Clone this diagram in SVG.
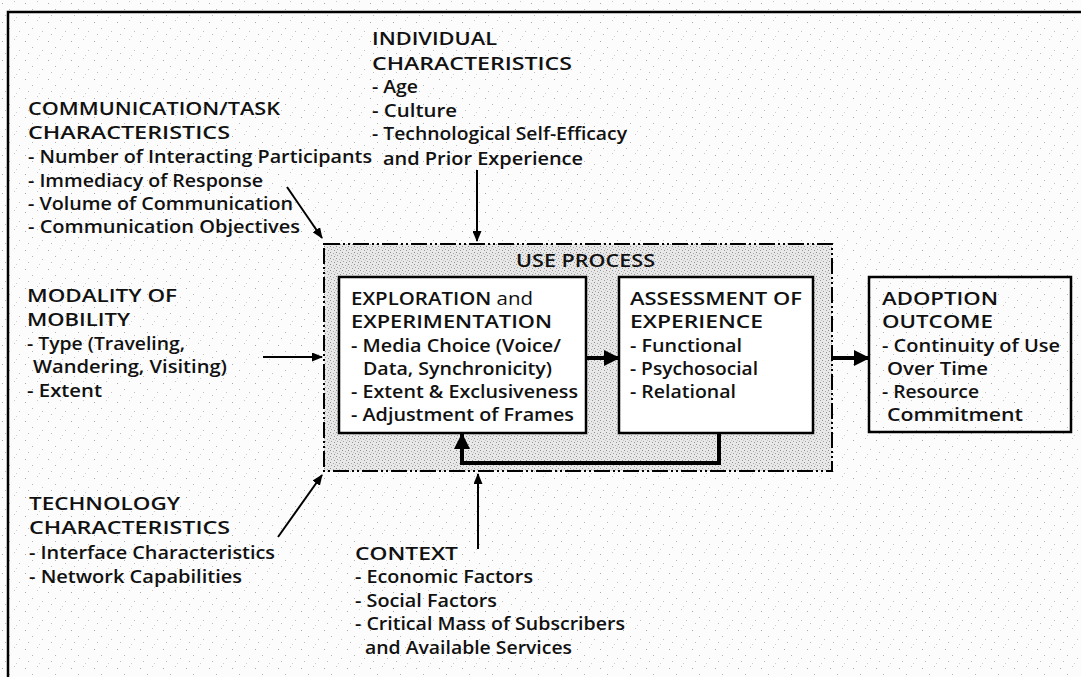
<svg xmlns="http://www.w3.org/2000/svg" width="1081" height="677" viewBox="0 0 1081 677">
  <defs>
    <style>
      text { font-family: "Open Sans", "Liberation Sans", sans-serif; font-size: 18px; font-weight: 600; fill: #111; }
      .frame { stroke: #000; stroke-width: 2.5; fill: none; }
      .box { fill: #fff; stroke: #000; stroke-width: 2.5; }
      .thin { stroke: #000; stroke-width: 2; fill: none; marker-end: url(#headThin); }
      .thick { stroke: #000; stroke-width: 4; fill: none; marker-end: url(#headThick); }
      .process { fill: url(#stipple); stroke: #000; stroke-width: 2; stroke-dasharray: 16 3 2 3 2 3; }
    </style>
    <!-- sparse, irregular grain for the page -->
    <pattern id="grain" width="23" height="19" patternUnits="userSpaceOnUse">
      <rect width="23" height="19" fill="#fcfcfc"/>
      <rect x="2" y="3" width="1" height="1" fill="#a8a8a8"/>
      <rect x="14" y="1" width="1" height="1" fill="#c8c8c8"/>
      <rect x="9" y="9" width="1" height="1" fill="#b4b4b4"/>
      <rect x="19" y="12" width="1" height="1" fill="#c0c0c0"/>
      <rect x="5" y="15" width="1" height="1" fill="#bcbcbc"/>
      <rect x="16" y="17" width="1" height="1" fill="#d0d0d0"/>
    </pattern>
    <!-- denser stipple inside the use-process frame -->
    <pattern id="stipple" width="6" height="6" patternUnits="userSpaceOnUse">
      <rect width="6" height="6" fill="#e8e8e8"/>
      <rect x="0" y="0" width="1" height="1" fill="#8c8c8c"/>
      <rect x="3" y="1" width="1" height="1" fill="#a8a8a8"/>
      <rect x="1" y="3" width="1" height="1" fill="#a0a0a0"/>
      <rect x="4" y="4" width="1" height="1" fill="#959595"/>
      <rect x="5" y="2" width="1" height="1" fill="#c4c4c4"/>
    </pattern>
    <marker id="headThin" markerUnits="userSpaceOnUse" markerWidth="11" markerHeight="9" refX="10" refY="4.5" orient="auto">
      <path d="M0,0 L11,4.5 L0,9 Z" fill="#000"/>
    </marker>
    <marker id="headThick" markerUnits="userSpaceOnUse" markerWidth="16" markerHeight="16" refX="15" refY="8" orient="auto">
      <path d="M0,0 L16,8 L0,16 Z" fill="#000"/>
    </marker>
  </defs>

  <rect width="1081" height="677" fill="url(#grain)"/>

  <!-- page frame -->
  <path class="frame" d="M8,677 L8,12 L1081,12"/>

  <!-- use process container -->
  <g id="use-process">
    <rect class="process" x="324" y="244" width="508" height="227"/>
    <text x="516" y="267" textLength="139" lengthAdjust="spacingAndGlyphs">USE PROCESS</text>
  </g>

  <g id="exploration">
    <rect class="box" x="339" y="277" width="247" height="156"/>
    <text x="351" y="305" textLength="182" lengthAdjust="spacingAndGlyphs">EXPLORATION <tspan style="font-weight:400">and</tspan></text>
    <text x="351" y="328" textLength="201" lengthAdjust="spacingAndGlyphs">EXPERIMENTATION</text>
    <text x="351" y="352" textLength="210" lengthAdjust="spacingAndGlyphs">- Media Choice (Voice/</text>
    <text x="363" y="375" textLength="189" lengthAdjust="spacingAndGlyphs">Data, Synchronicity)</text>
    <text x="351" y="398" textLength="227" lengthAdjust="spacingAndGlyphs">- Extent &amp; Exclusiveness</text>
    <text x="351" y="421" textLength="223" lengthAdjust="spacingAndGlyphs">- Adjustment of Frames</text>
  </g>

  <g id="assessment">
    <rect class="box" x="619" y="277" width="194" height="156"/>
    <text x="630" y="305" textLength="172" lengthAdjust="spacingAndGlyphs">ASSESSMENT OF</text>
    <text x="630" y="328" textLength="133" lengthAdjust="spacingAndGlyphs">EXPERIENCE</text>
    <text x="630" y="352" textLength="112" lengthAdjust="spacingAndGlyphs">- Functional</text>
    <text x="630" y="375" textLength="128" lengthAdjust="spacingAndGlyphs">- Psychosocial</text>
    <text x="630" y="398" textLength="106" lengthAdjust="spacingAndGlyphs">- Relational</text>
  </g>

  <g id="adoption">
    <rect class="box" x="869" y="277" width="202" height="155" style="fill:url(#grain)"/>
    <text x="882" y="305" textLength="116" lengthAdjust="spacingAndGlyphs">ADOPTION</text>
    <text x="882" y="328" textLength="111" lengthAdjust="spacingAndGlyphs">OUTCOME</text>
    <text x="882" y="352" textLength="178" lengthAdjust="spacingAndGlyphs">- Continuity of Use</text>
    <text x="887" y="375" textLength="101" lengthAdjust="spacingAndGlyphs">Over Time</text>
    <text x="882" y="398" textLength="97" lengthAdjust="spacingAndGlyphs">- Resource</text>
    <text x="887" y="421" textLength="136" lengthAdjust="spacingAndGlyphs">Commitment</text>
  </g>

  <g id="communication-task">
    <text x="28" y="115" textLength="252" lengthAdjust="spacingAndGlyphs">COMMUNICATION/TASK</text>
    <text x="28" y="139" textLength="202" lengthAdjust="spacingAndGlyphs">CHARACTERISTICS</text>
    <text x="28" y="163" textLength="344" lengthAdjust="spacingAndGlyphs">- Number of Interacting Participants</text>
    <text x="28" y="187" textLength="235" lengthAdjust="spacingAndGlyphs">- Immediacy of Response</text>
    <text x="28" y="210" textLength="265" lengthAdjust="spacingAndGlyphs">- Volume of Communication</text>
    <text x="28" y="233" textLength="272" lengthAdjust="spacingAndGlyphs">- Communication Objectives</text>
  </g>

  <g id="individual">
    <text x="372" y="45" textLength="125" lengthAdjust="spacingAndGlyphs">INDIVIDUAL</text>
    <text x="372" y="70" textLength="200" lengthAdjust="spacingAndGlyphs">CHARACTERISTICS</text>
    <text x="372" y="93" textLength="46" lengthAdjust="spacingAndGlyphs">- Age</text>
    <text x="372" y="117" textLength="85" lengthAdjust="spacingAndGlyphs">- Culture</text>
    <text x="372" y="140" textLength="255" lengthAdjust="spacingAndGlyphs">- Technological Self-Efficacy</text>
    <text x="383" y="165" textLength="200" lengthAdjust="spacingAndGlyphs">and Prior Experience</text>
  </g>

  <g id="modality">
    <text x="27" y="302" textLength="150" lengthAdjust="spacingAndGlyphs">MODALITY OF</text>
    <text x="27" y="326" textLength="103" lengthAdjust="spacingAndGlyphs">MOBILITY</text>
    <text x="27" y="350" textLength="158" lengthAdjust="spacingAndGlyphs">- Type (Traveling,</text>
    <text x="33" y="373" textLength="194" lengthAdjust="spacingAndGlyphs">Wandering, Visiting)</text>
    <text x="27" y="397" textLength="75" lengthAdjust="spacingAndGlyphs">- Extent</text>
  </g>

  <g id="technology">
    <text x="29" y="510" textLength="151" lengthAdjust="spacingAndGlyphs">TECHNOLOGY</text>
    <text x="29" y="534" textLength="201" lengthAdjust="spacingAndGlyphs">CHARACTERISTICS</text>
    <text x="29" y="559" textLength="246" lengthAdjust="spacingAndGlyphs">- Interface Characteristics</text>
    <text x="29" y="583" textLength="213" lengthAdjust="spacingAndGlyphs">- Network Capabilities</text>
  </g>

  <g id="context">
    <text x="355" y="560" textLength="103" lengthAdjust="spacingAndGlyphs">CONTEXT</text>
    <text x="355" y="583" textLength="178" lengthAdjust="spacingAndGlyphs">- Economic Factors</text>
    <text x="355" y="607" textLength="142" lengthAdjust="spacingAndGlyphs">- Social Factors</text>
    <text x="355" y="630" textLength="270" lengthAdjust="spacingAndGlyphs">- Critical Mass of Subscribers</text>
    <text x="365" y="654" textLength="207" lengthAdjust="spacingAndGlyphs">and Available Services</text>
  </g>

  <!-- connectors -->
  <g id="connectors">
    <line class="thin" x1="287" y1="187" x2="322" y2="238"/>
    <line class="thin" x1="477" y1="170" x2="477" y2="241"/>
    <line class="thin" x1="263" y1="357" x2="322" y2="357"/>
    <line class="thin" x1="278" y1="537" x2="322" y2="475"/>
    <line class="thin" x1="478" y1="549" x2="478" y2="474"/>
    <line class="thick" x1="586" y1="358" x2="619" y2="358"/>
    <line class="thick" x1="833" y1="358" x2="869" y2="358"/>
    <polyline class="thick" points="719,433 719,463 462,463 462,434"/>
  </g>
</svg>
